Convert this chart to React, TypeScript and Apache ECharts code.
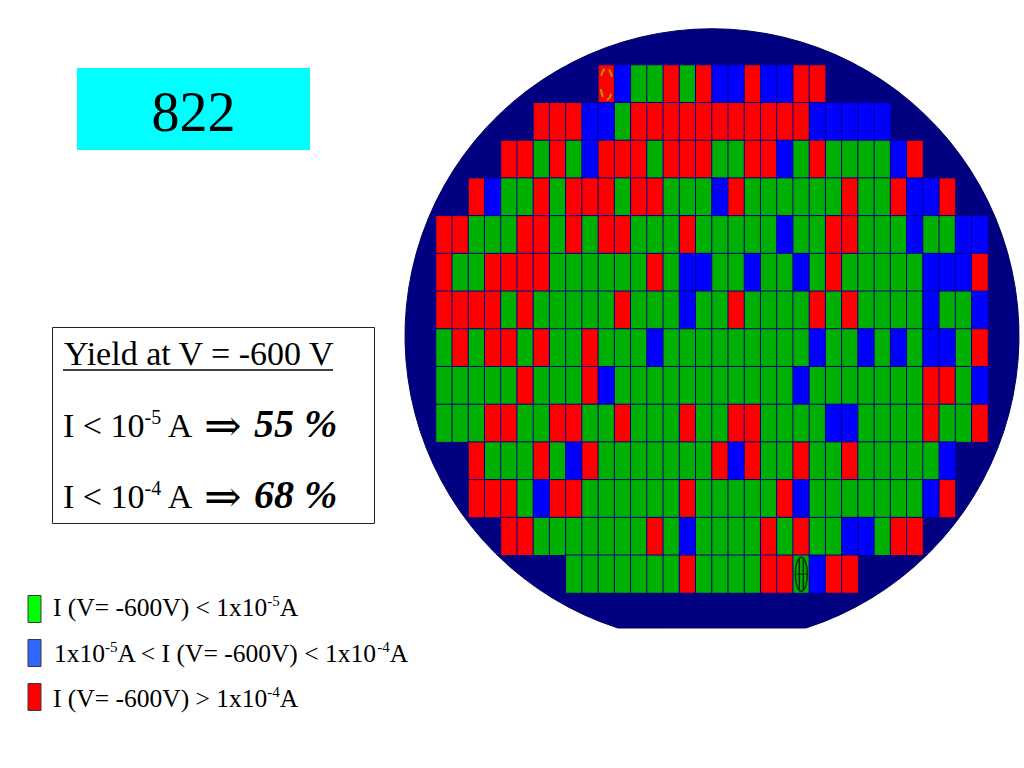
import React, { useEffect, useRef } from "react";
import * as echarts from "echarts";

const columns = Array.from({ length: 34 }, (_, i) => String(i));
const rows = Array.from({ length: 14 }, (_, i) => String(i));
// first die column of each wafer row, then the die bins from there: G / B / R
const rowStart = [10, 6, 4, 2, 0, 0, 0, 0, 0, 0, 2, 2, 4, 8];
const rowBins = [
  "RBGGRGRBBRBBRR",
  "RRRBBGRRRRRRRRRRRBBBBB",
  "RRGRGBRRRGRRRGGRRBGRGGGGBR",
  "RBGGRGRRRGRRGGGBRGGGGGGRGGRBBR",
  "RRGGGRRGRGRRGGGRGGGGGBGGRRGGGBGGBB",
  "RGGRRRRGGGGGGRGBBGGBGGBGRGGGGGBBBR",
  "RRRRGRGGGGGRGGGBGGRGGGGRGRGGGGBGGB",
  "GRGRRGRGGRGGGBGGGGGGGGGBGGBGBGBBGR",
  "GGGGGRGGGRBGGGGGGGGGGGBGGGGGGGRRGB",
  "GGGRRGGRRGGRGGGRGGRRGGGGBBGGGGRGGR",
  "RGGGRGBRGGGGGGGRBRGGRGGRGGGGGB",
  "RRRGBRRGGGGGGRGGGGGRBGGGGGGGBR",
  "RRGGGGGGGRGBGGGGRGRGGBBGRR",
  "GGGGGGGRGGGGRRGBRR",
];
const binOrder = ["G", "B", "R"];
const binColors = ["#00b000", "#0000ff", "#ff0000"];
const legendTexts = [
  "I (V= -600V) < 1x10",
  "1x10",
  "I (V= -600V) > 1x10",
];
const yieldValues = ["55 %", "68 %"];
const titleText = "822";

echarts.graphic.registerShape(
  "wafer",
  echarts.graphic.extendPath("M 618 628 A 307 307 0 1 1 806 628 Z", {} as any) as any
);

const serif = "'Liberation Serif', 'Times New Roman', serif";

const rich = (size: number, supSize: number, pad: number) => ({
  b: { fontFamily: serif, fontSize: size, lineHeight: size + 8, verticalAlign: "bottom", fill: "#000" },
  s: { fontFamily: serif, fontSize: supSize, lineHeight: size + 8 - pad, verticalAlign: "top", padding: [pad, 0, 0, 0], fill: "#000" },
});

const txt = (x: number, y: number, text: string, size: number, supSize: number, pad: number) => ({
  type: "text", x, y, z: 10,
  style: { text, rich: rich(size, supSize, pad), fontFamily: serif, fontSize: size, fill: "#000", align: "left", verticalAlign: "top" },
});

const arrow = (y: number) => ({
  type: "text", x: 204, y, z: 10,
  style: { text: "⇒", fontFamily: "'DejaVu Serif'", fontSize: 45, fill: "#000", align: "left", verticalAlign: "middle" },
});

const value = (y: number, text: string) => ({
  type: "text", x: 254, y, z: 10,
  style: { text, fontFamily: serif, fontSize: 40, fontWeight: "bold", fontStyle: "italic", fill: "#000", align: "left", verticalAlign: "middle" },
});

const swatch = (y: number, fill: string) => ({
  type: "rect", z: 10,
  shape: { x: 28, y, width: 13, height: 27 },
  style: { fill, stroke: "#3a3a3a", lineWidth: 1 },
});

export default function App() {
  const ref = useRef<HTMLDivElement>(null);
  useEffect(() => {
    const chart = echarts.init(ref.current!, undefined, { renderer: "svg" });
    const data: number[][] = [];
    rowBins.forEach((bins, r) => {
      bins.split("").forEach((b, i) => {
        data.push([rowStart[r] + i, r, binOrder.indexOf(b)]);
      });
    });
    chart.setOption({
      animation: false,
      grid: { left: 436, top: 65, width: 552, height: 528 },
      xAxis: { type: "category", data: columns, show: false },
      yAxis: { type: "category", data: rows, inverse: true, show: false },
      visualMap: {
        show: false,
        type: "piecewise",
        dimension: 2,
        seriesIndex: 0,
        pieces: binColors.map((color, value) => ({ value, color })),
      },
      series: [
        {
          type: "heatmap",
          data,
          itemStyle: { borderColor: "#000080", borderWidth: 1 },
          emphasis: { disabled: true },
        },
        {
          type: "custom",
          coordinateSystem: "cartesian2d",
          z: 5,
          data: [[10, 0, 0], [22, 13, 1]],
          renderItem(_: any, api: any) {
            const p = api.coord([api.value(0), api.value(1)]);
            const kind = api.value(2);
            if (kind === 0) {
              return {
                type: "ellipse",
                shape: { cx: p[0], cy: p[1], rx: 6, ry: 16 },
                style: { fill: "none", stroke: "#a8a000", lineWidth: 2, lineDash: [8, 5, 8, 17], lineDashOffset: 29.5 },
              };
            }
            return {
              type: "group",
              children: [
                { type: "ellipse", shape: { cx: p[0], cy: p[1], rx: 6, ry: 17 }, style: { fill: "none", stroke: "#0a2a0a", lineWidth: 1.5 } },
                { type: "line", shape: { x1: p[0] - 2, y1: p[1] - 15, x2: p[0] - 2, y2: p[1] + 15 }, style: { stroke: "#0a2a0a", lineWidth: 1.5 } },
                { type: "line", shape: { x1: p[0] + 2, y1: p[1] - 15, x2: p[0] + 2, y2: p[1] + 15 }, style: { stroke: "#0a2a0a", lineWidth: 1.5 } },
                { type: "line", shape: { x1: p[0] - 6, y1: p[1], x2: p[0] + 6, y2: p[1] }, style: { stroke: "#0a2a0a", lineWidth: 1 } },
              ],
            };
          },
        },
      ],
      graphic: [
        { type: "wafer", z: -5, style: { fill: "#000080", stroke: "#000060", lineWidth: 1 } },
        { type: "rect", z: 1, shape: { x: 77, y: 68, width: 233, height: 82 }, style: { fill: "#00ffff" } },
        { type: "text", z: 10, x: 193.5, y: 112, style: { text: titleText, fontFamily: serif, fontSize: 56, fill: "#000", align: "center", verticalAlign: "middle" } },
        { type: "rect", z: 1, shape: { x: 52.5, y: 327.5, width: 322, height: 196 }, style: { fill: "#fff", stroke: "#222", lineWidth: 1 } },
        txt(64, 328, "{b|Yield at V = -600 V}", 34, 20, 0),
        { type: "line", z: 10, shape: { x1: 63, y1: 370, x2: 333, y2: 370 }, style: { stroke: "#000", lineWidth: 1.5 } },
        txt(63, 400, "{b|I < 10}{s|-5}{b| A}", 34, 20, 7),
        arrow(425),
        value(423, yieldValues[0]),
        txt(63, 471, "{b|I < 10}{s|-4}{b| A}", 34, 20, 7),
        arrow(496),
        value(494, yieldValues[1]),
        swatch(595.5, "#00ff00"),
        swatch(639.5, "#3366ff"),
        swatch(683.5, "#ff0000"),
        txt(53, 587, `{b|${legendTexts[0]}}{s|-5}{b|A}`, 25.5, 15, 6),
        txt(54, 633, `{b|${legendTexts[1]}}{s|-5}{b|A < I (V= -600V) < 1x10}{s|-4}{b|A}`, 25.5, 15, 6),
        txt(53, 678, `{b|${legendTexts[2]}}{s|-4}{b|A}`, 25.5, 15, 6),
      ],
    });
    return () => chart.dispose();
  }, []);
  return <div ref={ref} style={{ position: "absolute", left: 0, top: 0, width: 1024, height: 768, background: "#fff" }} />;
}
